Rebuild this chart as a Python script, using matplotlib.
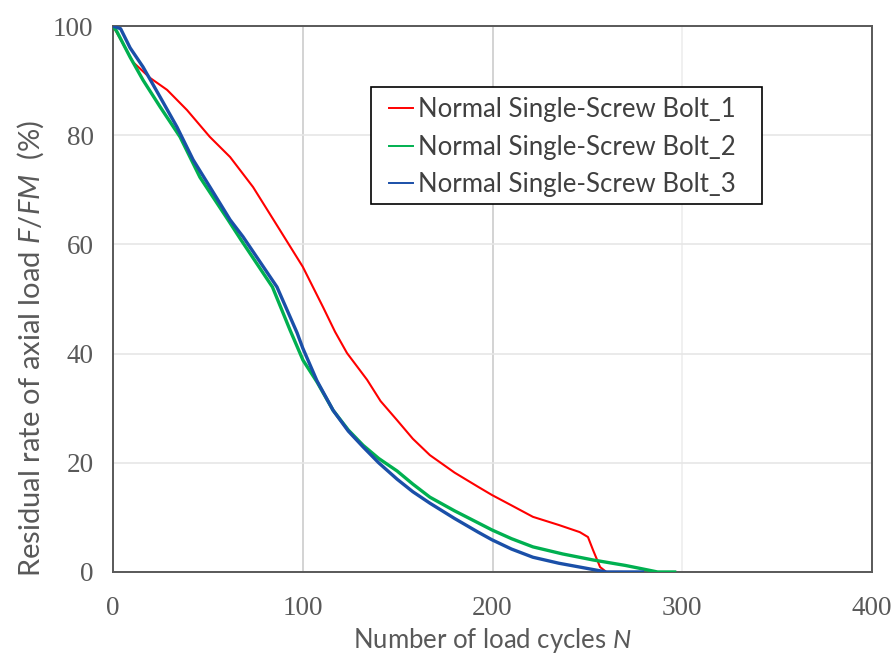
import numpy as np
import matplotlib
matplotlib.use("Agg")
import matplotlib.pyplot as plt
from matplotlib.patches import Rectangle

plt.rcParams['font.family'] = ['Lato', 'DejaVu Sans']
plt.rcParams['mathtext.fontset'] = 'custom'
plt.rcParams['mathtext.rm'] = 'Lato'
plt.rcParams['mathtext.it'] = 'Lato:italic'

#> Data
bolt1Cycles = [0, 4.7, 10.5, 19.5, 28.5, 39, 51, 61.7, 73.8, 88, 100, 110.7, 117, 123.3, 133.9,
               141, 149.7, 158, 167, 180, 192.4, 199.7, 210, 221.3, 235, 246, 250.3, 253, 256.7, 260, 268]
bolt1Rate = [100, 97.1, 93.4, 90.5, 88.3, 84.6, 79.7, 76, 70.5, 62.6, 55.9, 48.5, 44, 40.1, 35.2,
             31.3, 27.8, 24.4, 21.4, 18.2, 15.6, 14.1, 12.2, 10.1, 8.6, 7.3, 6.4, 4.0, 0.9, 0, 0]

bolt2Cycles = [0, 2, 9, 15.8, 24.8, 35.3, 45.8, 60.6, 67.5, 84, 93.3, 98.5, 100.1, 107.5, 116,
               124, 131.8, 140, 149.7, 158, 167, 180, 192.4, 199.7, 210, 221.3, 237, 253, 270, 281.4, 287, 296]
bolt2Rate = [100, 99, 94.3, 90.1, 85.2, 79.7, 72.3, 64.5, 60.8, 52.2, 44.3, 40.1, 38.8, 34.8, 29.6,
             26.0, 23.2, 20.8, 18.5, 16.1, 13.7, 11.2, 9.0, 7.7, 6.1, 4.6, 3.3, 2.2, 1.2, 0.4, 0, 0]

bolt3Cycles = [0, 4, 9, 15.8, 24.8, 33.7, 42.2, 51.1, 61.7, 68.5, 86.4, 97, 100, 107.5, 116,
               124, 131.8, 140, 149.7, 158, 167, 180, 192.4, 199.7, 210, 221.3, 235, 246, 260, 279]
bolt3Rate = [100, 99.5, 96, 92.5, 87, 81.5, 75.5, 70.5, 64.5, 61.4, 52.2, 43.8, 41, 35.0, 29.6,
             25.8, 22.9, 20.0, 17.0, 14.7, 12.6, 9.8, 7.3, 5.9, 4.2, 2.7, 1.6, 0.9, 0, 0]

seriesLabels = ['Normal Single-Screw Bolt_1', 'Normal Single-Screw Bolt_2', 'Normal Single-Screw Bolt_3']
xTicks = [0, 100, 200, 300, 400]
yTicks = [0, 20, 40, 60, 80, 100]

fig = plt.figure(figsize=(8.95, 6.57), dpi=100)
ax = fig.add_axes([0.1263, 0.1294, 0.848, 0.831])

ax.plot(bolt1Cycles, bolt1Rate, color='#ff0000', lw=1.5, label=seriesLabels[0], zorder=3)
ax.plot(bolt2Cycles, bolt2Rate, color='#00b050', lw=2.4, label=seriesLabels[1], zorder=4)
ax.plot(bolt3Cycles, bolt3Rate, color='#1a4fa8', lw=2.4, label=seriesLabels[2], zorder=5)

ax.set_xlim(0, 400)
ax.set_ylim(0, 100)
ax.set_xticks(xTicks)
ax.set_yticks(yTicks)
ax.tick_params(length=0, labelsize=19.5, labelcolor='#595959')
ax.tick_params(axis='x', pad=17)
ax.tick_params(axis='y', pad=14)
for lbl in ax.get_xticklabels() + ax.get_yticklabels():
    lbl.set_fontfamily('Liberation Serif')

ax.grid(axis='y', color='#e6e6e6', lw=1.2)
ax.grid(axis='x', color='#cccccc', lw=1.2)
ax.get_xgridlines()[3].set_color('#eeeeee')
ax.set_axisbelow(True)
for s in ax.spines.values():
    s.set_color('#595959')
    s.set_linewidth(1.4)

ax.set_xlabel('Number of load cycles $\\it{N}$', fontsize=18.5, color='#595959', labelpad=4)
ax.set_ylabel('Residual rate of axial load $\\it{F/FM}$  (%)', fontsize=21, color='#595959')
ax.yaxis.set_label_coords(-0.088, 0.41)

# legend box drawn separately so its padding matches the reference
ax.add_patch(Rectangle((0.340, 0.674), 0.515, 0.214, transform=ax.transAxes, fill=True,
                       facecolor='white', edgecolor='#000000', lw=1.2, zorder=6))
leg = ax.legend(loc='upper left', bbox_to_anchor=(0.3636, 0.8695), fontsize=18.5, frameon=False,
                handlelength=0.93, handletextpad=0.2, labelspacing=0.48, borderpad=0,
                borderaxespad=0)
leg.set_zorder(7)
for t in leg.get_texts():
    t.set_color('#404040')
for h in leg.get_lines():
    h.set_linewidth(1.4)

fig.savefig('out.png', dpi=100, facecolor='white')
